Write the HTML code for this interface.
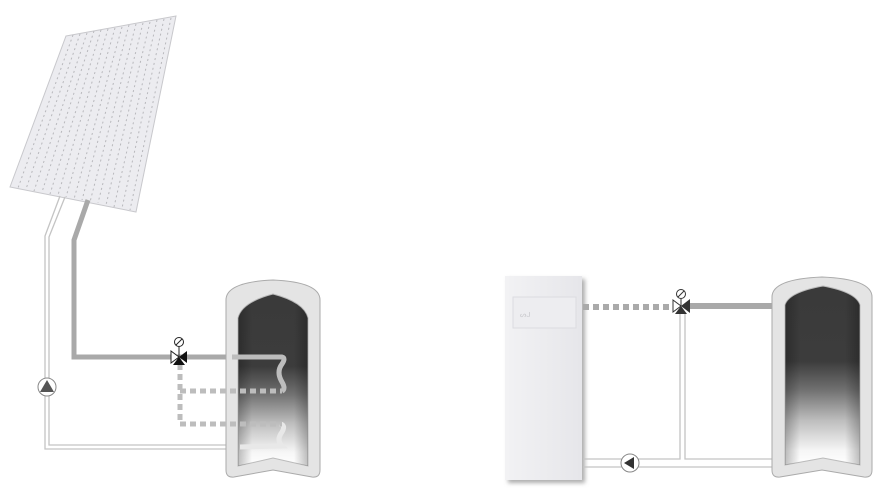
<!DOCTYPE html>
<html><head><meta charset="utf-8"><style>html,body{margin:0;padding:0;background:#fff}svg{display:block}</style></head>
<body>
<svg width="890" height="503" viewBox="0 0 890 503" xmlns="http://www.w3.org/2000/svg">
<defs>
<linearGradient id="tg" x1="0" y1="0" x2="0" y2="1">
<stop offset="0" stop-color="#3a3a3a"/>
<stop offset="0.42" stop-color="#3c3c3c"/>
<stop offset="0.58" stop-color="#707070"/>
<stop offset="0.75" stop-color="#bdbdbd"/>
<stop offset="0.92" stop-color="#f6f6f6"/>
<stop offset="1" stop-color="#ffffff"/>
</linearGradient>
<linearGradient id="sd" x1="0" y1="0" x2="1" y2="0">
<stop offset="0" stop-color="#000" stop-opacity="0.25"/>
<stop offset="0.2" stop-color="#000" stop-opacity="0"/>
<stop offset="0.8" stop-color="#000" stop-opacity="0"/>
<stop offset="1" stop-color="#000" stop-opacity="0.25"/>
</linearGradient>
<linearGradient id="bx" x1="0" y1="0" x2="1" y2="0">
<stop offset="0" stop-color="#f2f2f4"/><stop offset="1" stop-color="#e6e6ea"/>
</linearGradient>
<filter id="sh" x="-20%" y="-20%" width="140%" height="140%"><feDropShadow dx="3" dy="3" stdDeviation="2" flood-color="#777" flood-opacity="0.6"/></filter>
</defs>

<!-- solar panel -->
<polygon points="66,36 176,16 136,212 10,187" fill="#ececf0" stroke="#c8c8cc" stroke-width="1"/>
<g stroke="#b8b8bc" stroke-width="1" stroke-dasharray="2,3">
<line x1="73" y1="35" x2="18" y2="188"/><line x1="80" y1="34" x2="26" y2="189"/>
<line x1="87" y1="33" x2="34" y2="191"/><line x1="94" y1="31" x2="42" y2="192"/>
<line x1="101" y1="30" x2="50" y2="194"/><line x1="108" y1="29" x2="58" y2="195"/>
<line x1="115" y1="28" x2="66" y2="197"/><line x1="122" y1="27" x2="74" y2="199"/>
<line x1="129" y1="25" x2="82" y2="200"/><line x1="136" y1="24" x2="90" y2="202"/>
<line x1="143" y1="23" x2="98" y2="203"/><line x1="150" y1="22" x2="106" y2="205"/>
<line x1="157" y1="20" x2="114" y2="207"/><line x1="164" y1="19" x2="122" y2="208"/>
<line x1="171" y1="18" x2="130" y2="210"/>
</g>

<!-- left double return line -->
<g fill="none" stroke="#c4c4c4" stroke-width="1.3">
<polyline points="60,196 45,236 45,449 230,449"/>
<polyline points="65,197 49,237 49,445 230,445"/>
</g>
<!-- thick supply -->
<polyline points="88,200 74,240 74,357 232,357" fill="none" stroke="#a9a9a9" stroke-width="5"/>
<!-- pump -->
<circle cx="47" cy="387" r="9" fill="#fff" stroke="#888" stroke-width="1"/>
<polygon points="47,380 54,392 40,392" fill="#555"/>

<!-- left tank -->
<path d="M226,300 Q226,282 273,280 Q320,282 320,300 L320,470 Q320,478 312,477 L273,470 L234,477 Q226,478 226,470 Z" fill="#e4e4e4" stroke="#aaa" stroke-width="1"/>
<path d="M238,318 Q242,302 273,294 Q304,302 308,318 L308,466 L273,458 L238,466 Z" fill="url(#tg)" stroke="#bbb" stroke-width="1"/>
<path d="M238,318 Q242,302 273,294 Q304,302 308,318 L308,466 L273,458 L238,466 Z" fill="url(#sd)"/>
<!-- coils -->
<path d="M232,357 L282,357 Q286,358 282,364 Q276,372 282,382 Q286,389 282,391" fill="none" stroke="#bdbdbd" stroke-width="5"/>
<path d="M280,424 Q286,425 282,432 Q276,440 282,446 L240,447" fill="none" stroke="#e8e8e8" stroke-width="5"/>
<g fill="none" stroke-width="5">
<path d="M180,364 L180,424 L282,424" stroke="#bdbdbd" stroke-dasharray="6,4"/>
<path d="M180,391 L282,391" stroke="#bdbdbd" stroke-dasharray="6,4"/>
</g>
<!-- left valve -->
<circle cx="179" cy="342" r="4.5" fill="#fff" stroke="#222" stroke-width="1"/>
<line x1="176" y1="345" x2="182" y2="339" stroke="#222" stroke-width="1"/>
<line x1="179" y1="347" x2="179" y2="357" stroke="#222" stroke-width="1"/>
<polygon points="171,351 179,357 171,363" fill="#fff" stroke="#222" stroke-width="1"/>
<polygon points="187,351 179,357 187,363" fill="#111"/>
<polygon points="173,365 179,357 185,365" fill="#111"/>

<!-- boiler -->
<rect x="505" y="276" width="77" height="204" fill="url(#bx)" filter="url(#sh)"/>
<rect x="513" y="297" width="63" height="31" fill="#ededf0" stroke="#dcdce0" stroke-width="1"/>
<text x="520" y="317" font-family="Liberation Sans, sans-serif" font-size="7" fill="#c8c8cc">ᔕᒍ</text>

<!-- right pipes -->
<path d="M583,307 L673,307" stroke="#aaa" stroke-width="6" stroke-dasharray="6,4" fill="none"/>
<line x1="690" y1="306" x2="773" y2="306" stroke="#a9a9a9" stroke-width="6"/>
<g fill="none" stroke="#c4c4c4" stroke-width="1.3">
<polyline points="680,313 680,459 583,459"/>
<polyline points="685,313 685,459 773,459"/>
<line x1="583" y1="467" x2="773" y2="467"/>
</g>
<circle cx="630" cy="463" r="9" fill="#fff" stroke="#888" stroke-width="1"/>
<polygon points="624,463 634,457 634,469" fill="#333"/>
<!-- right valve -->
<circle cx="681" cy="294" r="4.5" fill="#fff" stroke="#333" stroke-width="1"/>
<line x1="678" y1="297" x2="684" y2="291" stroke="#333" stroke-width="1"/>
<line x1="681" y1="299" x2="681" y2="306" stroke="#333" stroke-width="1"/>
<polygon points="673,300 681,306 673,312" fill="#fff" stroke="#333" stroke-width="1"/>
<polygon points="690,299 681,306 690,313" fill="#333"/>
<polygon points="675,314 681,306 687,314" fill="#333"/>

<!-- right tank -->
<path d="M772,297 Q772,279 822,277 Q872,279 872,297 L872,470 Q872,478 864,477 L822,470 L780,477 Q772,478 772,470 Z" fill="#e4e4e4" stroke="#aaa" stroke-width="1"/>
<path d="M785,305 Q789,292 823,286 Q856,292 860,305 L860,465 L823,458 L785,465 Z" fill="url(#tg)" stroke="#bbb" stroke-width="1"/>
<path d="M785,305 Q789,292 823,286 Q856,292 860,305 L860,465 L823,458 L785,465 Z" fill="url(#sd)"/>
</svg>
</body></html>
